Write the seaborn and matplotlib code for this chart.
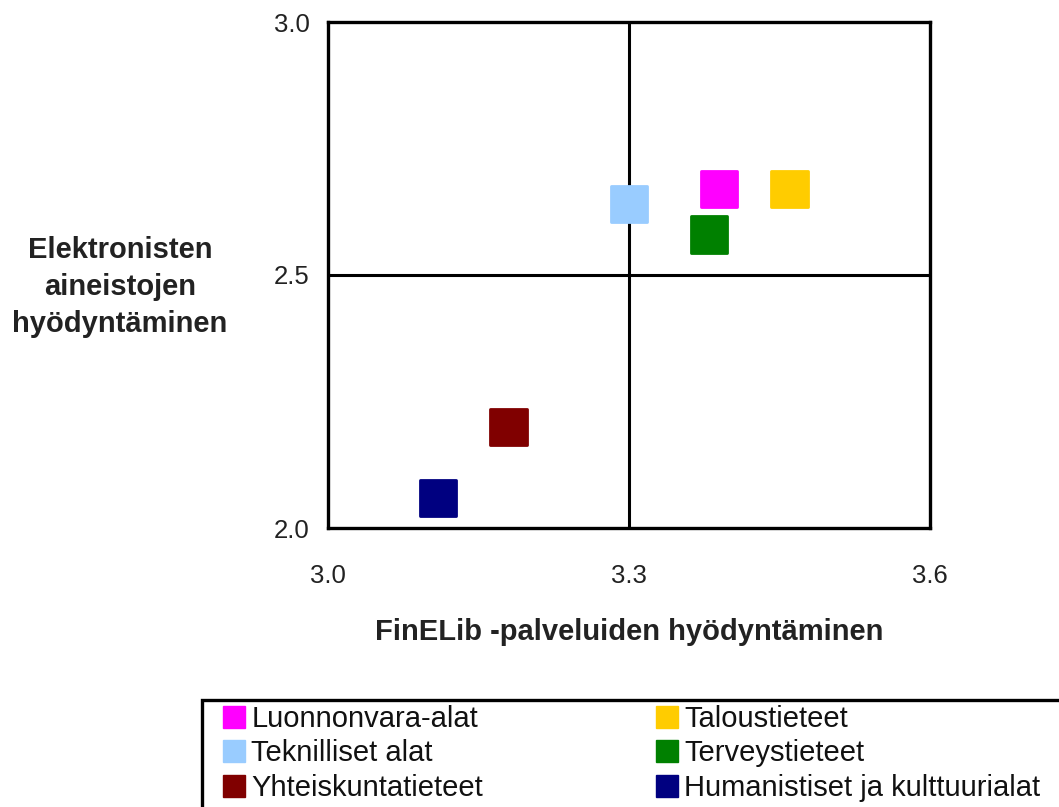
import matplotlib
matplotlib.use("Agg")
import matplotlib.pyplot as plt
from matplotlib.lines import Line2D
from matplotlib.patches import Rectangle
import seaborn as sns
import pandas as pd

categories = ["Luonnonvara-alat", "Taloustieteet", "Teknilliset alat",
              "Terveystieteet", "Yhteiskuntatieteet", "Humanistiset ja kulttuurialat"]
finelib_use = [3.39, 3.46, 3.30, 3.38, 3.18, 3.11]
eresource_use = [2.67, 2.67, 2.64, 2.58, 2.20, 2.06]
colors = ["#FF00FF", "#FFCC00", "#99CCFF", "#008000", "#800000", "#000080"]
x_ticks = [3.0, 3.3, 3.6]
y_ticks = [2.0, 2.5, 3.0]
x_label = "FinELib -palveluiden hyödyntäminen"
y_label = "Elektronisten\naineistojen\nhyödyntäminen"
legend_order = ["Luonnonvara-alat", "Teknilliset alat", "Yhteiskuntatieteet",
                "Taloustieteet", "Terveystieteet", "Humanistiset ja kulttuurialat"]

sns.set_style("white")
plt.rcParams["font.family"] = ["Liberation Sans", "DejaVu Sans"]

df = pd.DataFrame({"ala": categories, "x": finelib_use, "y": eresource_use})
palette = dict(zip(categories, colors))

W, H = 1059, 807
fig = plt.figure(figsize=(W/100, H/100), dpi=100)
ax = fig.add_axes([328/W, 1-528/H, (930-328)/W, (528-22)/H])

sns.scatterplot(data=df, x="x", y="y", hue="ala", palette=palette, marker="s",
                s=680, edgecolor="face", linewidth=2, legend=False, ax=ax, zorder=3)
for coll in ax.collections:
    coll.set_joinstyle("round")

ax.set_xlim(x_ticks[0], x_ticks[-1])
ax.set_ylim(y_ticks[0], y_ticks[-1])
ax.set_xticks(x_ticks)
ax.set_yticks(y_ticks)
ax.set_xticklabels([f"{v:.1f}" for v in x_ticks])
ax.set_yticklabels([f"{v:.1f}" for v in y_ticks])
ax.tick_params(axis="both", length=0, labelsize=18.5, colors="#222222")
ax.tick_params(axis="x", pad=26)
ax.tick_params(axis="y", pad=13)

ax.axvline(x_ticks[1], color="black", lw=2.2, zorder=2)
ax.axhline(y_ticks[1], color="black", lw=2.2, zorder=2)
for sp in ax.spines.values():
    sp.set_visible(True)
    sp.set_color("black")
    sp.set_linewidth(2.4)

ax.set_xlabel(x_label, fontsize=21, fontweight="bold", color="#222222", va="center")
ax.xaxis.set_label_coords(0.5, (528-632)/506)
ax.set_ylabel("")
fig.text(120/W, 1-287/H, y_label, fontsize=21, fontweight="bold", color="#222222",
         ha="center", va="center", multialignment="center", linespacing=1.43)

# legend box (extends past the right and bottom edges, as in the original)
fig.add_artist(Rectangle((202/W, -0.1), 1.0, 1-700/H + 0.1, transform=fig.transFigure,
                         facecolor="white", edgecolor="black", linewidth=2.4, zorder=0))

handles = [Line2D([], [], marker="s", linestyle="", markersize=16.5,
                  markerfacecolor=palette[c], markeredgecolor=palette[c]) for c in legend_order]
leg = fig.legend(handles, legend_order, ncol=2, loc="upper left",
                 bbox_to_anchor=(222/W, 1-705/H), frameon=False, fontsize=21,
                 handlelength=0.8, handletextpad=0.2, columnspacing=5.9,
                 borderpad=0, labelspacing=0.22, borderaxespad=0)
for t in leg.get_texts():
    t.set_color("#111111")

fig.savefig("out.png", dpi=100, facecolor="white")
